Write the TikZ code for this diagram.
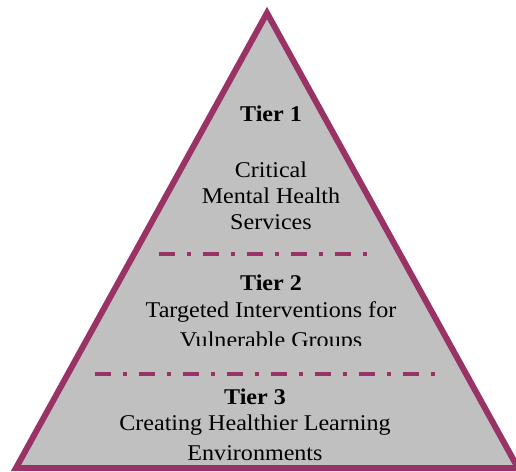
\documentclass[tikz,border=0pt]{standalone}
\usepackage{fontspec}
\setmainfont[FakeStretch=1.07]{Liberation Serif}
\definecolor{plum}{RGB}{153,51,102}
\definecolor{tiergrey}{RGB}{192,192,192}
\begin{document}
\begin{tikzpicture}[x=1pt,y=-1pt,
  tierline/.style={draw=plum,line width=4pt,dash pattern=on 16pt off 12pt on 4pt off 12pt},
  tiertext/.style={font=\fontsize{22.5}{26}\selectfont,align=center,inner sep=0pt,anchor=base},
  tierhead/.style={tiertext,font=\fontsize{22.5}{26}\selectfont\bfseries}]
\useasboundingbox (0,0) rectangle (516,471);
\begin{scope}
\clip (0,0) rectangle (516,471);
\draw[fill=tiergrey,draw=plum,line width=6pt,miter limit=10] (267,13) coordinate (apex) -- (16,468) coordinate (bl) -- (518,468) coordinate (br) -- cycle;
\end{scope}
\coordinate (l1a) at (159,253.5);
\coordinate (l1b) at (371,253.5);
\coordinate (l2a) at (95,373.5);
\coordinate (l2b) at (439,373.5);
\draw[tierline] (l1a) -- (l1b);
\draw[tierline] (l2a) -- (l2b);
% Tier 1
\node[tierhead] (t1) at (271,121.5) {Tier 1};
\node[tiertext] (t1a) at (271,177.5) {Critical};
\node[tiertext] (t1b) at (271,203.5) {Mental Health};
\node[tiertext] (t1c) at (271,229.5) {Services};
% Tier 2
\node[tierhead] (t2) at (271,290) {Tier 2};
\node[tiertext] (t2a) at (271,317) {Targeted Interventions for};
\begin{scope}
\clip (0,330) rectangle (516,345);
\node[tiertext] (t2b) at (271,347) {Vulnerable Groups};
\end{scope}
% Tier 3
\node[tierhead] (t3) at (255,404) {Tier 3};
\node[tiertext] (t3a) at (255,430) {Creating Healthier Learning};
\node[tiertext] (t3b) at (255,460) {Environments};
\begin{scope}
\clip (0,0) rectangle (516,471);
\draw[draw=plum,line width=6pt] (bl) -- (br);
\end{scope}
\end{tikzpicture}
\end{document}
